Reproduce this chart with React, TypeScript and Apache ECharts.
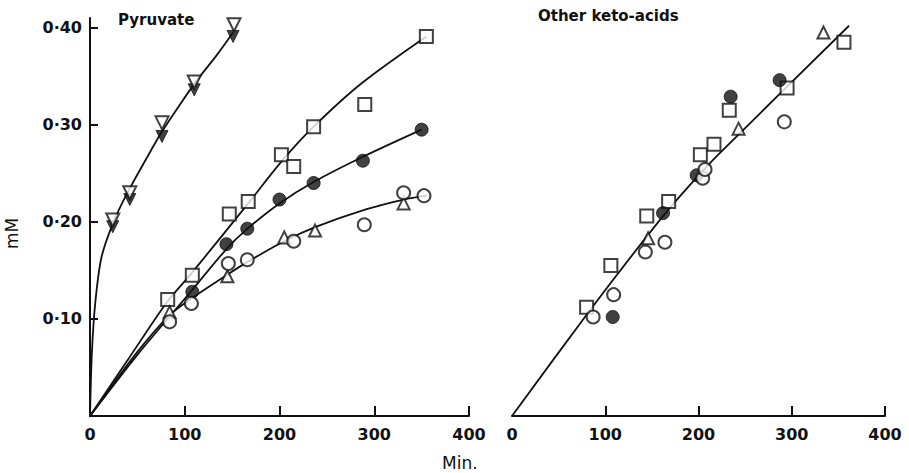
import React, { useEffect, useRef } from "react";
import * as echarts from "echarts";

// ---- Data (x: minutes, y: mM) ----
// Left panel: Pyruvate
const pyrOpen = [[24, 0.202], [42, 0.23], [76, 0.302], [110, 0.344], [152, 0.403]];
const pyrFilled = [[24, 0.195], [42, 0.223], [76, 0.288], [110, 0.336], [151, 0.391]];
const pyrCurve = [[0, 0], [2, 0.065], [5.5, 0.116], [12, 0.163], [24, 0.198], [39, 0.229], [60, 0.266], [76, 0.293], [95, 0.321], [113, 0.346], [134, 0.372], [151, 0.395]];

const sqLeft = [[82, 0.12], [108, 0.145], [147, 0.208], [167, 0.221], [202, 0.269], [215, 0.257], [236, 0.298], [290, 0.321], [355, 0.391]];
const sqCurve = [[0, 0], [40, 0.058], [81, 0.117], [108, 0.148], [167, 0.219], [202, 0.262], [236, 0.298], [287, 0.343], [355, 0.391]];

const fcLeft = [[108, 0.128], [144, 0.177], [166, 0.193], [200, 0.223], [236, 0.24], [288, 0.263], [350, 0.295]];
const fcCurve = [[0, 0], [50, 0.063], [108, 0.13], [144, 0.172], [165, 0.192], [200, 0.219], [236, 0.241], [288, 0.267], [350, 0.295]];

const triLeft = [[84, 0.107], [145, 0.144], [205, 0.184], [237.5, 0.191], [331, 0.219]];
const ocLeft = [[84, 0.097], [107, 0.116], [146, 0.157], [166, 0.161], [215, 0.18], [289.5, 0.197], [331, 0.23], [352.5, 0.227]];
const toCurve = [[0, 0], [50, 0.066], [84, 0.104], [107, 0.121], [144, 0.145], [165, 0.158], [205, 0.18], [239, 0.195], [292, 0.213], [331, 0.223], [355, 0.227]];

// Right panel: Other keto-acids
const sqRight = [[80, 0.112], [106, 0.155], [144.5, 0.206], [168, 0.221], [202, 0.269], [216.6, 0.28], [233, 0.315], [295, 0.338], [356, 0.385]];
const fcRight = [[108, 0.102], [162, 0.209], [198, 0.248], [234.5, 0.329], [287, 0.346]];
const ocRight = [[87, 0.102], [109, 0.125], [143, 0.169], [164, 0.179], [204.5, 0.245], [207, 0.254], [292, 0.303]];
const triRight = [[146, 0.183], [243, 0.296], [334, 0.395]];
const lineRight = [[0, 0], [83.6, 0.109], [158.7, 0.202], [190.9, 0.238], [220.9, 0.269], [361.4, 0.402]];

// Axis ticks / labels
const yTickValues = [0.1, 0.2, 0.3, 0.4];
const xLabelValues = [0, 100, 200, 300, 400];
const xTickValues = [100, 200, 300, 400];

const FONT = "DejaVu Sans";
const BLACK = "#111";

export default function App() {
  const ref = useRef<HTMLDivElement>(null);
  useEffect(() => {
    const chart = echarts.init(ref.current!, null, { renderer: "svg" });
    const axisLine = { show: true, onZero: false, lineStyle: { color: BLACK, width: 2 } };
    const xAxis = (gridIndex: number) => ({
      type: "value",
      gridIndex,
      min: 0,
      max: 400,
      axisLine,
      splitLine: { show: false },
      axisTick: { show: true, inside: true, length: 10, lineStyle: { color: BLACK, width: 2 }, customValues: xTickValues },
      axisLabel: { color: BLACK, fontFamily: FONT, fontSize: 16, fontWeight: "bold", margin: 10, customValues: xLabelValues, formatter: (v: number) => String(v) },
    });
    const yAxis = (gridIndex: number, show: boolean) => ({
      type: "value",
      gridIndex,
      min: 0,
      max: 0.41,
      show,
      axisLine,
      splitLine: { show: false },
      axisTick: { show: true, inside: true, length: 8, lineStyle: { color: BLACK, width: 2 }, customValues: yTickValues },
      axisLabel: {
        color: BLACK, fontFamily: FONT, fontSize: 16, fontWeight: "bold", margin: 8, customValues: yTickValues,
        formatter: (v: number) => v.toFixed(2).replace(".", "·"),
      },
    });
    const curve = (data: number[][], xi: number, smooth: number | boolean = 0.3) => ({
      type: "line",
      data,
      xAxisIndex: xi,
      yAxisIndex: xi,
      smooth,
      showSymbol: false,
      symbol: "none",
      lineStyle: { color: BLACK, width: 1.8 },
      z: 2,
      silent: true,
    });
    const pts = (data: number[][], xi: number, symbol: string, size: number, filled: boolean, rotate = 0) => ({
      type: "scatter",
      data,
      xAxisIndex: xi,
      yAxisIndex: xi,
      symbol,
      symbolSize: size,
      symbolRotate: rotate,
      itemStyle: filled
        ? { color: BLACK, borderColor: BLACK, borderWidth: 1 }
        : { color: "#fff", borderColor: BLACK, borderWidth: 2 },
      z: 5,
    });
    chart.setOption({
      animation: false,
      backgroundColor: "#fff",
      grid: [
        { left: 90, top: 18, width: 379, height: 398 },
        { left: 512, top: 18, width: 373, height: 398 },
      ],
      xAxis: [xAxis(0), xAxis(1)],
      yAxis: [yAxis(0, true), yAxis(1, false)],
      series: [
        curve(pyrCurve, 0, 0.3),
        curve(sqCurve, 0),
        curve(fcCurve, 0),
        curve(toCurve, 0),
        curve(lineRight, 1, 0.2),
        pts(pyrFilled, 0, "triangle", 12, true, 180),
        pts(pyrOpen, 0, "triangle", 13, false, 180),
        pts(sqLeft, 0, "rect", 13, false),
        pts(fcLeft, 0, "circle", 13, true),
        pts(triLeft, 0, "triangle", 12, false),
        pts(ocLeft, 0, "circle", 13, false),
        pts(sqRight, 1, "rect", 13, false),
        pts(fcRight, 1, "circle", 13, true),
        pts(ocRight, 1, "circle", 13, false),
        pts(triRight, 1, "triangle", 12, false),
      ],
      graphic: [
        { type: "text", left: 118, top: 12, style: { text: "Pyruvate", fill: BLACK, font: `bold 15px ${FONT}` } },
        { type: "text", left: 538, top: 8, style: { text: "Other keto-acids", fill: BLACK, font: `bold 15px ${FONT}` } },
        { type: "text", left: 442, top: 454, style: { text: "Min.", fill: BLACK, font: `17px ${FONT}` } },
        { type: "text", x: 3, y: 249, rotation: Math.PI / 2, style: { text: "mM", fill: BLACK, font: `17px ${FONT}` } },
      ],
    });
    return () => chart.dispose();
  }, []);
  return <div ref={ref} style={{ position: "absolute", left: 0, top: 0, width: 909, height: 473, background: "#fff" }} />;
}
